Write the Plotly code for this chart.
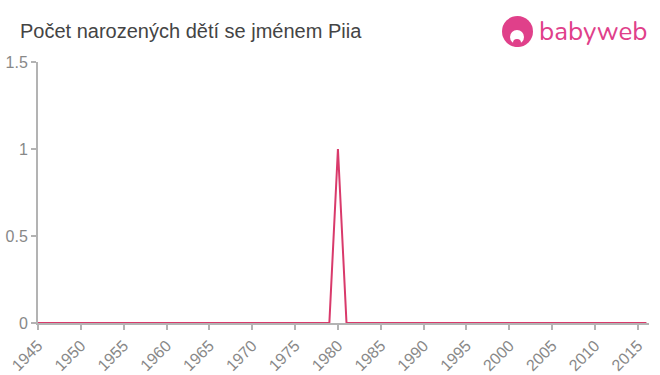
import plotly.graph_objects as go

years = list(range(1945, 2017))
counts = [1 if y == 1980 else 0 for y in years]

title_text = "Počet narozených dětí se jménem Piia"
x_ticks = list(range(1945, 2016, 5))
y_ticks = [0, 0.5, 1, 1.5]
y_labels = ["0", "0.5", "1", "1.5"]

line_color = "#d93a6b"
logo_color = "#e0408a"
axis_color = "#b3b3b3"
tick_font_color = "#888888"

fig = go.Figure()
fig.add_trace(go.Scatter(x=years, y=counts, mode="lines",
                         line=dict(color=line_color, width=2),
                         hoverinfo="x+y", showlegend=False))

fig.update_layout(
    width=660, height=375,
    margin=dict(l=38, r=11, t=62, b=52, autoexpand=False),
    paper_bgcolor="white", plot_bgcolor="white",
    font=dict(family="Liberation Sans, Arial, sans-serif", color=tick_font_color, size=16),
    title=dict(text=title_text, x=20/660, xanchor="left", y=1-31/375, yanchor="middle",
               font=dict(size=20, color="#444444", family="Liberation Sans, Arial, sans-serif")),
    xaxis=dict(range=[1945, 2016.3], tickvals=x_ticks, ticktext=[str(v) for v in x_ticks],
               tickangle=-45, showgrid=False, zeroline=False, showline=True, automargin=False,
               linecolor=axis_color, linewidth=2, ticks="outside", ticklen=5,
               tickcolor=axis_color, tickwidth=2, tickfont=dict(size=16, color=tick_font_color)),
    yaxis=dict(range=[0, 1.5], tickvals=y_ticks, ticktext=y_labels, showgrid=False, automargin=False,
               zeroline=False, showline=True, linecolor=axis_color, linewidth=2,
               ticks="outside", ticklen=5, tickcolor=axis_color, tickwidth=2,
               tickfont=dict(size=16, color=tick_font_color)),
)

# babyweb logo (approximate)
fig.add_shape(type="circle", xref="paper", yref="paper",
              x0=(502-38)/611, x1=(533-38)/611, y0=(323-47)/261, y1=(323-16)/261,
              fillcolor=logo_color, line=dict(width=0))
fig.add_shape(type="circle", xref="paper", yref="paper",
              x0=(510-38)/611, x1=(524-38)/611, y0=(323-44)/261, y1=(323-30)/261,
              fillcolor="white", line=dict(width=0))
fig.add_shape(type="circle", xref="paper", yref="paper",
              x0=(513-38)/611, x1=(521-38)/611, y0=(323-47)/261, y1=(323-39)/261,
              fillcolor=logo_color, line=dict(width=0))
fig.add_annotation(text="babyweb", xref="paper", yref="paper",
                   x=(537-38)/611, y=(323-32)/261, xanchor="left", yanchor="middle",
                   showarrow=False,
                   font=dict(size=26, color=logo_color, family="Nunito, Lato, Liberation Sans, sans-serif"))

fig.write_html("out.html")
